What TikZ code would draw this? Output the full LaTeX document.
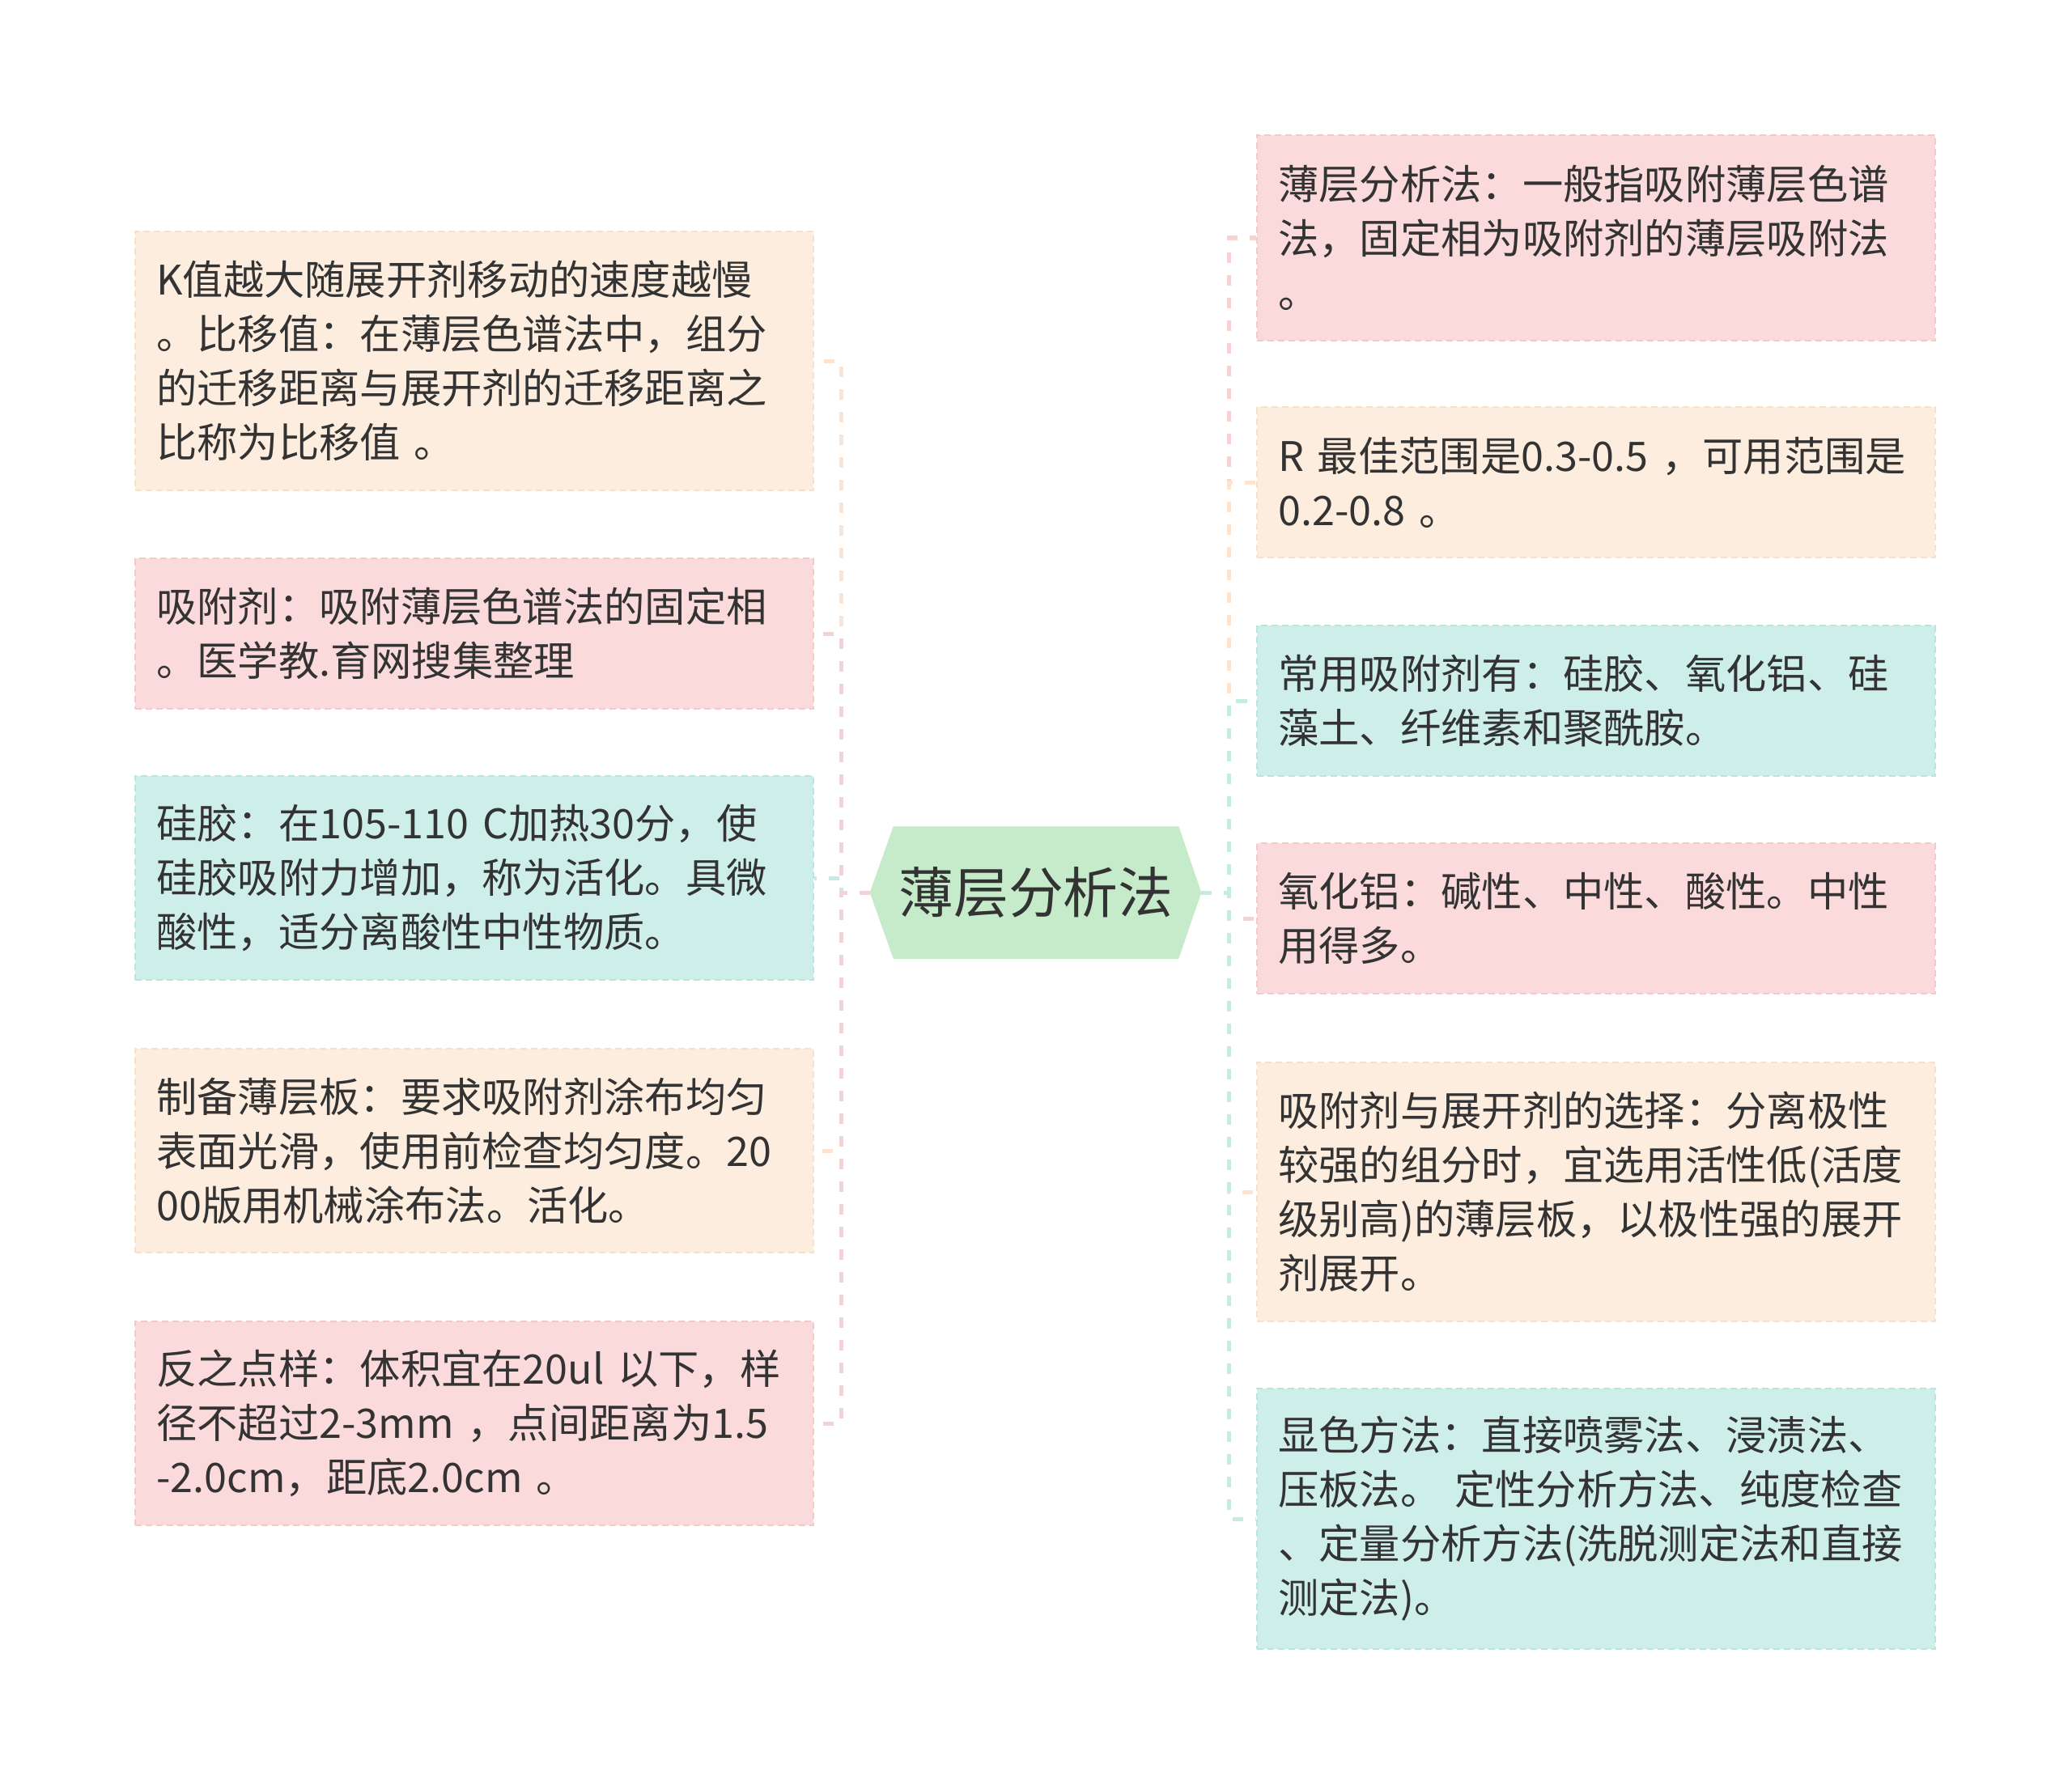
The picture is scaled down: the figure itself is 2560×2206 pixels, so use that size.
\documentclass[tikz,border=0pt]{standalone}
\usepackage{fontspec}
\setmainfont{Noto Sans CJK SC}
\usetikzlibrary{backgrounds}

\definecolor{txt}{HTML}{333333}
\definecolor{peachfill}{RGB}{253,237,222}
\definecolor{peachedge}{RGB}{248,224,203}
\definecolor{peachline}{RGB}{252,228,208}
\definecolor{pinkfill}{RGB}{250,218,219}
\definecolor{pinkedge}{RGB}{243,202,204}
\definecolor{pinkline}{RGB}{247,210,211}
\definecolor{mintfill}{RGB}{206,239,233}
\definecolor{mintedge}{RGB}{186,229,221}
\definecolor{mintline}{RGB}{198,235,229}
\definecolor{rootfill}{RGB}{198,235,202}

\tikzset{
  leaf/.style={rectangle, fill=#1fill, draw=#1edge, line width=0.02cm,
    dash pattern=on 0.08cm off 0.05cm, text=txt, text width=7.85cm,
    align=left, inner xsep=0.26cm, inner ysep=0pt, minimum width=8.37cm,
    font=\fontsize{14.3pt}{19.07pt}\selectfont},
  link/.style={color=#1line, line width=0.05cm, dash pattern=on 0.13cm off 0.15cm},
}

\begin{document}
\begin{tikzpicture}[x=0.01cm, y=-0.01cm]
  \useasboundingbox (0,0) rectangle (2560,2206);
  % Centro
  \node[text=txt, font=\fontsize{19.3pt}{23pt}\selectfont, minimum width=3.51cm,
    minimum height=1.62cm, inner sep=0pt] (root) at (1280,1103) {薄层分析法};
  \begin{scope}[on background layer]
    \fill[rootfill] (root.north west) -- (root.north east) -- ([xshift=0.28cm]root.east)
      -- (root.south east) -- (root.south west) -- ([xshift=-0.29cm]root.west) -- cycle;
  \end{scope}
  \coordinate (rootL) at ([xshift=-0.29cm]root.west);
  \coordinate (rootR) at ([xshift=0.28cm]root.east);

  % Sinistra
  \node[leaf=peach, minimum height=3.2cm] (L1) at (586,446)
    {K值越大随展开剂移动的速度越慢\\。比移值：在薄层色谱法中，组分\\的迁移距离与展开剂的迁移距离之\\比称为比移值 。};
  \node[leaf=pink, minimum height=1.85cm] (L2) at (586,783)
    {吸附剂：吸附薄层色谱法的固定相\\。医学教.育网搜集整理};
  \node[leaf=mint, minimum height=2.52cm] (L3) at (586,1085)
    {硅胶：在105-110 C加热30分，使\\硅胶吸附力增加，称为活化。具微\\酸性，适分离酸性中性物质。};
  \node[leaf=peach, minimum height=2.52cm] (L4) at (586,1422)
    {制备薄层板：要求吸附剂涂布均匀\\表面光滑，使用前检查均匀度。20\\00版用机械涂布法。活化。};
  \node[leaf=pink, minimum height=2.52cm] (L5) at (586,1759)
    {反之点样：体积宜在20ul 以下，样\\径不超过2-3mm ，点间距离为1.5\\-2.0cm，距底2.0cm 。};

  % Destra
  \node[leaf=pink, minimum height=2.54cm] (R1) at (1972,294)
    {薄层分析法：一般指吸附薄层色谱\\法，固定相为吸附剂的薄层吸附法\\。};
  \node[leaf=peach, minimum height=1.85cm] (R2) at (1972,596)
    {R 最佳范围是0.3-0.5 ，可用范围是\\0.2-0.8 。};
  \node[leaf=mint, minimum height=1.85cm] (R3) at (1972,866)
    {常用吸附剂有：硅胶、氧化铝、硅\\藻土、纤维素和聚酰胺。};
  \node[leaf=pink, minimum height=1.85cm] (R4) at (1972,1135)
    {氧化铝：碱性、中性、酸性。中性\\用得多。};
  \node[leaf=peach, minimum height=3.2cm] (R5) at (1972,1473)
    {吸附剂与展开剂的选择：分离极性\\较强的组分时，宜选用活性低(活度\\级别高)的薄层板，以极性强的展开\\剂展开。};
  \node[leaf=mint, minimum height=3.22cm] (R6) at (1972,1877)
    {显色方法：直接喷雾法、浸渍法、\\压板法。 定性分析方法、纯度检查\\、定量分析方法(洗脱测定法和直接\\测定法)。};

  % Collegamenti
  \foreach \n/\col in {L1/peach, L2/pink, L3/mint, L4/peach, L5/pink}
    \draw[link=\col] (rootL) -- ++(-35,0) |- (\n.east);
  \foreach \n/\col in {R1/pink, R2/peach, R3/mint, R4/pink, R5/peach, R6/mint}
    \draw[link=\col] (rootR) -- ++(34,0) |- (\n.west);
\end{tikzpicture}
\end{document}
